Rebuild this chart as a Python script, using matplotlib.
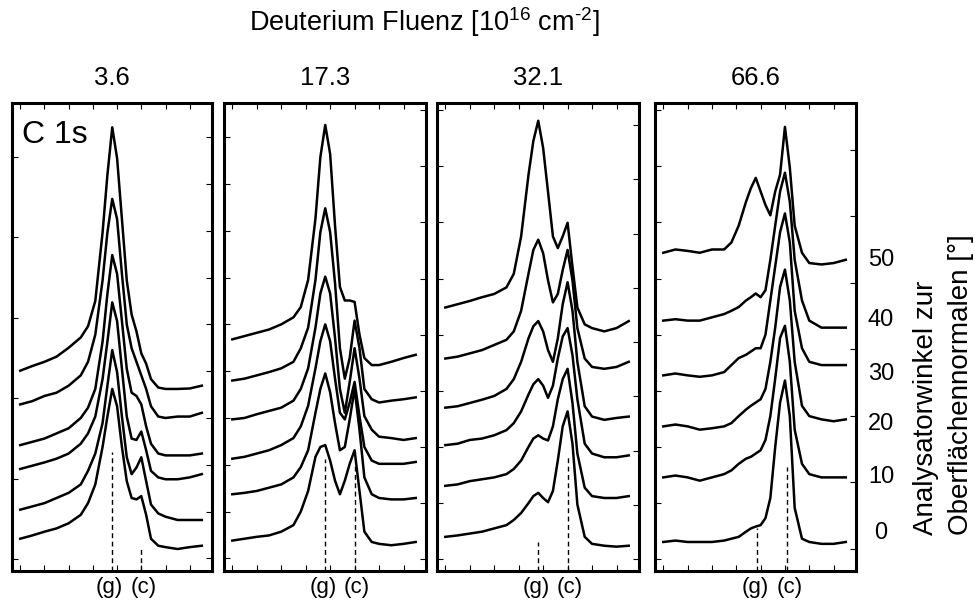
"""
C 1s spectra vs. analyser angle for four deuterium fluences.
"""

import numpy as np
import matplotlib.pyplot as plt

plt.rcParams['font.family'] = ['Liberation Sans', 'DejaVu Sans']
plt.rcParams['mathtext.fontset'] = 'custom'
plt.rcParams['mathtext.rm'] = 'Liberation Sans'

# --- DATA (intensity in % of panel height) ---
energy = [0, 0.5, 1, 1.5, 2, 2.5, 2.8, 3.1, 3.4, 3.6, 3.8, 4.0,
          4.2, 4.4, 4.6, 4.8, 5.0, 5.2, 5.4, 5.7, 6.0, 6.5, 7.0, 7.5]

fluences = ["3.6", "17.3", "32.1", "66.6"]
angles = ["0", "10", "20", "30", "40", "50"]

# rows: 0, 10, 20, 30, 40, 50 deg
spec_3_6 = [
    [6.9, 7.6, 8.4, 9.1, 10.2, 12.0, 14.5, 18.5, 26.5, 33.0, 38.9, 35.2, 26.5, 19.2, 15.6, 15.3, 16.0, 12.0, 6.9, 5.4, 5.1, 4.7, 5.1, 5.4],
    [13.1, 13.8, 14.5, 15.6, 16.7, 18.5, 21.4, 25.1, 31.6, 39.6, 47.2, 42.5, 33.0, 24.3, 20.7, 22.1, 24.3, 19.2, 14.2, 12.3, 11.6, 10.9, 10.9, 10.9],
    [21.8, 22.5, 23.2, 24.0, 25.1, 27.2, 29.4, 33.0, 41.0, 49.0, 57.4, 53.4, 43.2, 33.0, 28.3, 28.0, 29.8, 25.8, 21.4, 20.0, 19.6, 19.6, 20.0, 20.7],
    [26.9, 27.6, 28.3, 29.4, 30.5, 32.7, 34.9, 38.9, 49.0, 59.2, 67.5, 63.5, 53.4, 43.2, 38.1, 37.4, 35.6, 30.9, 27.2, 25.1, 24.7, 24.7, 24.7, 25.1],
    [35.6, 36.3, 37.4, 38.1, 39.6, 41.8, 44.7, 50.5, 62.1, 72.3, 79.5, 75.2, 63.5, 52.7, 47.6, 44.7, 41.8, 38.9, 35.2, 33.0, 32.7, 33.0, 33.0, 33.8],
    [42.8, 43.8, 44.7, 45.8, 47.7, 49.9, 52.3, 57.7, 72.3, 84.6, 94.8, 88.2, 75.2, 62.1, 54.8, 51.2, 46.5, 44.3, 41.0, 39.2, 38.9, 38.9, 39.0, 39.6],
]
spec_17_3 = [
    [6.5, 6.9, 7.3, 7.6, 8.4, 9.8, 12.7, 17.1, 24.4, 26.5, 26.9, 23.6, 19.3, 16.4, 19.3, 22.9, 25.8, 17.1, 8.4, 6.2, 5.8, 5.5, 5.8, 6.2],
    [16.4, 16.7, 17.1, 17.8, 18.5, 20.0, 22.2, 25.8, 33.8, 38.9, 42.2, 38.2, 31.6, 25.8, 26.5, 32.4, 38.9, 30.2, 20.0, 16.4, 15.6, 15.3, 15.3, 15.6],
    [24.0, 24.4, 25.1, 25.8, 26.9, 28.4, 30.9, 35.3, 43.3, 49.1, 52.7, 49.1, 41.1, 33.8, 32.4, 36.0, 40.4, 33.1, 26.5, 23.6, 22.9, 22.9, 22.9, 23.3],
    [32.4, 32.7, 33.5, 34.2, 34.9, 36.4, 38.9, 43.3, 52.0, 59.3, 62.9, 59.3, 49.8, 38.9, 33.8, 40.4, 47.6, 41.1, 33.1, 30.2, 28.7, 28.4, 28.0, 28.4],
    [40.7, 41.1, 41.8, 42.5, 43.3, 44.7, 47.6, 52.0, 62.2, 72.4, 77.5, 72.4, 61.5, 47.6, 41.1, 45.5, 53.5, 47.6, 38.9, 36.7, 36.0, 36.4, 36.7, 37.1],
    [49.5, 50.2, 50.9, 51.6, 52.7, 54.2, 56.4, 62.2, 75.3, 88.4, 95.3, 89.1, 73.8, 60.7, 57.8, 57.8, 57.5, 50.5, 45.5, 44.0, 44.0, 44.7, 45.5, 46.2],
]
spec_32_1 = [
    [7.3, 7.6, 8.0, 8.4, 9.1, 9.8, 10.9, 12.4, 14.5, 16.0, 16.7, 15.6, 14.7, 17.1, 23.6, 30.9, 34.1, 27.2, 14.2, 7.3, 5.8, 5.4, 5.2, 5.4],
    [18.2, 18.5, 19.2, 19.6, 20.0, 20.7, 21.8, 23.6, 26.5, 28.3, 29.0, 28.3, 27.9, 30.9, 36.7, 41.0, 43.2, 35.9, 25.1, 17.8, 16.0, 15.6, 15.6, 16.0],
    [26.9, 27.2, 28.0, 28.3, 29.0, 30.1, 31.6, 34.1, 37.7, 39.9, 41.0, 39.6, 37.0, 39.6, 45.4, 50.1, 51.9, 46.1, 36.7, 27.2, 25.1, 24.3, 24.3, 24.7],
    [34.9, 35.2, 35.9, 36.6, 37.4, 38.9, 41.0, 44.7, 49.7, 52.3, 53.4, 51.2, 47.2, 44.7, 49.7, 57.0, 61.7, 55.6, 44.7, 35.2, 33.0, 32.3, 32.7, 33.0],
    [45.4, 45.8, 46.5, 47.2, 48.3, 49.4, 51.2, 55.6, 63.5, 68.6, 70.8, 67.9, 62.1, 57.4, 59.2, 64.3, 68.6, 62.1, 51.9, 45.4, 43.6, 43.2, 43.6, 44.7],
    [56.3, 57.0, 57.7, 58.5, 59.2, 60.6, 63.5, 71.5, 84.6, 91.9, 96.2, 90.4, 81.0, 71.5, 69.0, 71.5, 74.4, 65.0, 56.3, 52.7, 51.9, 51.2, 51.9, 53.4],
]
spec_66_6 = [
    [6.2, 6.5, 6.2, 6.2, 6.2, 6.5, 6.9, 7.3, 8.4, 9.1, 9.5, 9.8, 11.3, 15.6, 26.5, 36.0, 40.7, 33.1, 13.5, 6.9, 6.2, 5.8, 5.8, 6.2],
    [20.0, 20.4, 20.0, 19.3, 20.0, 20.7, 21.5, 22.9, 24.0, 24.4, 25.1, 25.8, 28.0, 33.1, 41.1, 49.8, 52.4, 44.7, 30.2, 22.9, 20.7, 20.0, 20.0, 20.0],
    [30.9, 31.3, 30.9, 30.2, 30.5, 30.9, 31.6, 33.1, 34.5, 35.3, 36.0, 36.7, 38.9, 44.7, 52.0, 60.7, 64.4, 57.8, 44.7, 35.3, 33.1, 32.4, 32.0, 32.4],
    [41.8, 42.2, 41.8, 41.5, 41.8, 42.5, 44.0, 45.5, 46.2, 46.9, 47.6, 47.6, 50.5, 57.8, 65.1, 72.4, 76.4, 70.2, 55.6, 47.6, 44.7, 44.0, 44.0, 44.0],
    [53.5, 53.8, 53.5, 53.5, 54.2, 54.9, 55.6, 56.4, 57.8, 58.5, 59.3, 58.5, 60.0, 66.5, 73.8, 81.1, 85.1, 78.9, 66.5, 57.8, 53.5, 52.0, 52.0, 52.0],
    [68.0, 68.7, 68.4, 68.0, 68.7, 68.7, 70.2, 73.8, 78.9, 81.8, 84.0, 81.1, 78.2, 76.0, 81.1, 84.7, 94.9, 86.2, 73.8, 68.0, 65.8, 65.5, 65.8, 66.5],
]
spectra = [spec_3_6, spec_17_3, spec_32_1, spec_66_6]

# peak markers (g) graphite and (c) carbide, with the height of the dashed line
g_pos = [3.77, 3.78, 3.79, 3.85]
c_pos = [5.0, 5.0, 5.0, 5.08]
g_top = [25.4, 24.0, 6.2, 9.1]
c_top = [5.4, 22.9, 24.3, 22.2]

# --- LAYOUT (pixels of the 975 x 605 figure) ---
W, H = 975, 605
panel_left = [12, 224, 437, 655]
panel_width = [200, 202, 202, 201]
top, bottom = 103, 571
left_ticks = [(2.5, 17.2), (2.7, 10.0), (2.5, 12.0), (2.5, 12.0)]
right_ticks = [(2.7, 10.0), (2.5, 12.0), (2.5, 11.6), (4.8, 14.2)]

fig = plt.figure(figsize=(9.75, 6.05), dpi=100)

for i in range(4):
    ax = fig.add_axes([panel_left[i] / W, (H - bottom) / H,
                       panel_width[i] / W, (bottom - top) / H])
    for row in spectra[i]:
        ax.plot(energy, row, color='black', linewidth=1.8)

    ax.vlines([g_pos[i], c_pos[i]], 0, [g_top[i], c_top[i]], colors='black',
              linestyles=(0, (3.5, 2.5)), linewidth=1.0)

    ax.set_xlim(-0.34, 7.92)
    ax.set_ylim(0, 100)
    ax.set_xticks(range(8))
    ax.set_xticklabels([])
    start, step = left_ticks[i]
    ax.set_yticks(np.arange(start, 100, step))
    ax.set_yticklabels([])
    ax.tick_params(direction='in', top=True, length=4, width=0.8)
    for sp in ax.spines.values():
        sp.set_linewidth(2.2)

    # right-hand ticks use their own spacing
    twin = ax.twinx()
    twin.set_ylim(0, 100)
    start, step = right_ticks[i]
    twin.set_yticks(np.arange(start, 100, step))
    twin.set_yticklabels([])
    twin.tick_params(direction='in', length=4, width=0.8)
    for sp in twin.spines.values():
        sp.set_visible(False)

    trans = ax.get_xaxis_transform()
    label_y = -(588 - bottom) / (bottom - top)
    ax.text(g_pos[i] - 0.08, label_y, "(g)", transform=trans, ha='center',
            va='center', fontsize=16)
    ax.text(c_pos[i] + 0.1, label_y, "(c)", transform=trans, ha='center',
            va='center', fontsize=16)

    cx = (panel_left[i] + panel_width[i] / 2) / W
    fig.text(cx, 1 - 78 / H, fluences[i], ha='center', va='center',
             fontsize=18.5)

    if i == 0:
        ax.text(0.05, 0.914, "C 1s", transform=ax.transAxes, ha='left',
                va='baseline', fontsize=23)

# U+2010 keeps a short hyphen in the exponent
fig.text(424 / W, 1 - 22 / H,
         "Deuterium Fluenz [10$^{\\mathregular{16}}$ cm$^{\\mathregular{\u20102}}$]",
         ha='center', va='center', fontsize=19.5)

# angle labels next to the right panel
angle_y = [533, 477, 424, 374, 320, 260]
for lab, y in zip(angles, angle_y):
    fig.text(881 / W, 1 - y / H, lab, ha='center', va='center', fontsize=17)

fig.text(926 / W, 1 - 535 / H, "Analysatorwinkel zur", rotation=90,
         ha='center', va='bottom', fontsize=20)
fig.text(961 / W, 1 - 535 / H, "Oberflächennormalen [°]", rotation=90,
         ha='center', va='bottom', fontsize=20)

fig.savefig("out.png", dpi=100)
